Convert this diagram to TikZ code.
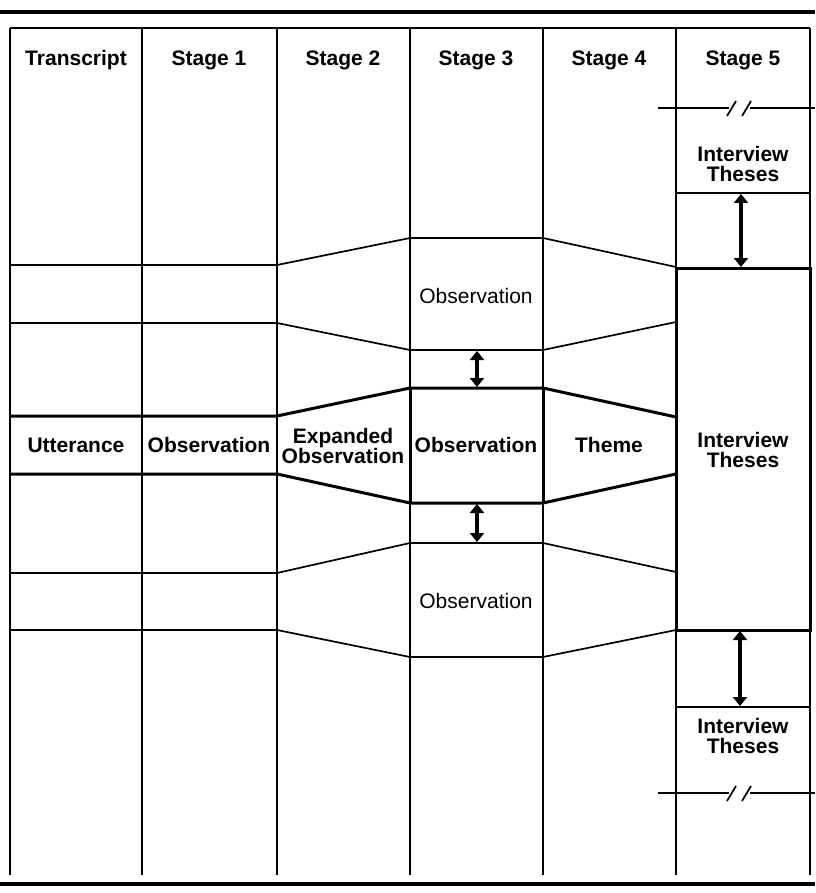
\documentclass[tikz,border=0pt]{standalone}
\usepackage{fontspec}
\setmainfont{Liberation Sans}
\usetikzlibrary{arrows.meta}
\begin{document}
\begin{tikzpicture}[x=1pt,y=-1pt,
  lnthin/.style={line width=1.7pt},
  lnthick/.style={line width=3pt},
  rule/.style={line width=3.2pt},
  lab/.style={font=\fontsize{21}{20}\selectfont\bfseries, align=center, inner sep=0pt},
  labr/.style={font=\fontsize{21}{20}\selectfont, align=center, inner sep=0pt},
  dbl/.style={line width=4.5pt, {Triangle[length=9pt,width=14pt]}-{Triangle[length=9pt,width=14pt]}, shorten <=1pt, shorten >=1pt},
]
\useasboundingbox (0,0) rectangle (815,893);
% rules
\draw[rule] (0,12) -- (815,12);
\draw[rule] (0,884) -- (815,884);
% table frame
\draw[lnthin] (10,28) -- (810,28);
\foreach \x in {10,142,277,410,543,676,810}
  \draw[lnthin] (\x,28) -- (\x,875);
% row lines
\draw[lnthin] (10,265) -- (277,265) -- (410,238) -- (543,238) -- (676,267);
\draw[lnthin] (10,323) -- (277,323) -- (410,350) -- (543,350) -- (676,322);
\draw[lnthick] (10,416) -- (277,416) -- (410,388) -- (543,388) -- (676,417);
\draw[lnthick] (10,474) -- (277,474) -- (410,503) -- (543,503) -- (676,474);
\draw[lnthin] (10,573) -- (277,573) -- (410,543) -- (543,543) -- (676,572);
\draw[lnthin] (10,630) -- (277,630) -- (410,657) -- (543,657) -- (676,630);
% thick verticals of highlighted cells
\foreach \x in {10,142,277} \draw[line width=2.2pt] (\x,416) -- (\x,474);
\foreach \x in {410,543} \draw[lnthick] (\x,388) -- (\x,503);
% stage 5
\draw[lnthin] (676,193) -- (810,193);
\draw[lnthick] (676,268) rectangle (810,630);
\draw[lnthin] (676,707) -- (810,707);
% break marks
\foreach \y in {108,793} {
  \draw[lnthin] (658,\y) -- (729,\y);
  \draw[lnthin] (750,\y) -- (815,\y);
  \draw[lnthin] (727,\y+8) -- (736,\y-7);
  \draw[lnthin] (742,\y+8) -- (751,\y-7);
}
% headers
\node[lab] (h0) at (76,60) {Transcript};
\node[lab] (h1) at (209,60) {Stage 1};
\node[lab] (h2) at (343,60) {Stage 2};
\node[lab] (h3) at (476,60) {Stage 3};
\node[lab] (h4) at (609,60) {Stage 4};
\node[lab] (h5) at (743,60) {Stage 5};
% main row
\node[lab] (utt) at (76,445) {Utterance};
\node[lab] (obs1) at (209,445) {Observation};
\node[lab] (exp) at (343,446) {Expanded\\Observation};
\node[lab] (obs3) at (476,445) {Observation};
\node[lab] (theme) at (609,445) {Theme};
\node[lab] (itm) at (743,450) {Interview\\Theses};
\node[labr] (obsu) at (476,296) {Observation};
\node[labr] (obsd) at (476,601) {Observation};
\node[lab] (itu) at (743,164) {Interview\\Theses};
\node[lab] (itd) at (743,736) {Interview\\Theses};
% arrows
\coordinate (a1) at (477,350); \coordinate (a2) at (477,388);
\coordinate (b1) at (477,503); \coordinate (b2) at (477,543);
\coordinate (c1) at (741,193); \coordinate (c2) at (741,268);
\coordinate (d1) at (740,630); \coordinate (d2) at (740,707);
\draw[dbl] (a1) -- (a2);
\draw[dbl] (b1) -- (b2);
\draw[dbl] (c1) -- (c2);
\draw[dbl] (d1) -- (d2);
\end{tikzpicture}
\end{document}
